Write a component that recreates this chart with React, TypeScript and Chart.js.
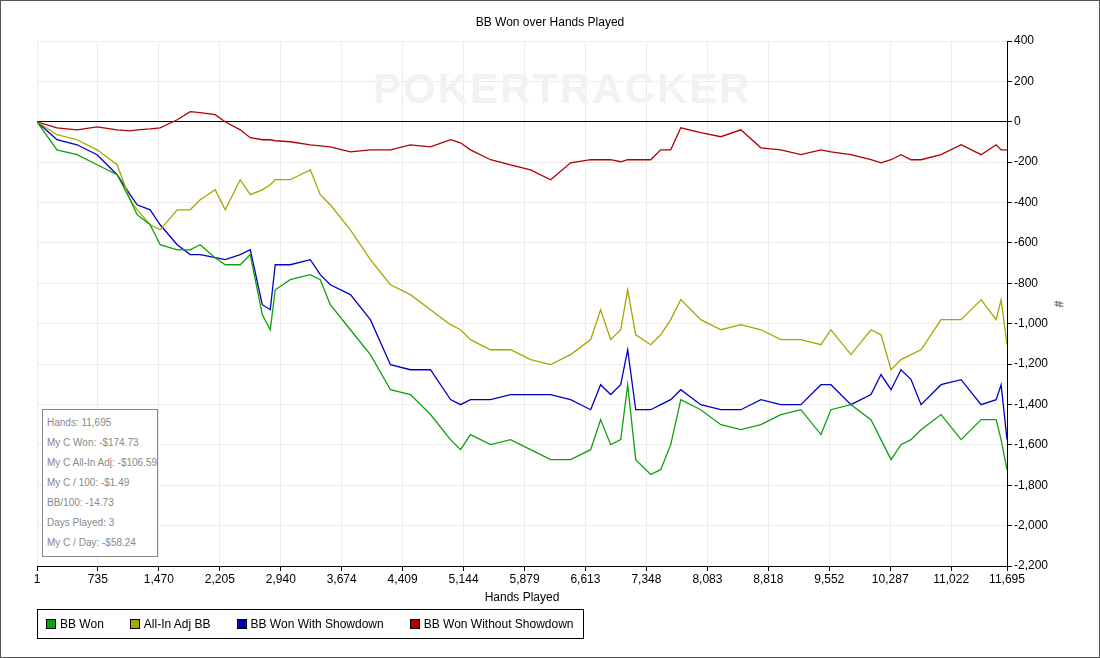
import React, { useEffect, useRef } from "react";
import { Chart, registerables } from "chart.js";
Chart.register(...registerables);

const hands = [1,242,484,725,967,1124,1208,1365,1486,1691,1848,1968,2149,2270,2451,2572,2717,2813,2873,3054,3296,3416,3537,3779,4020,4262,4503,4745,4986,5107,5227,5469,5710,5952,6193,6434,6676,6796,6917,7038,7122,7219,7400,7520,7641,7762,8003,8245,8486,8728,8969,9210,9452,9572,9814,10055,10176,10297,10417,10538,10659,10900,11142,11383,11564,11624,11695];
const bbWon = [0,-139,-163,-213,-262,-386,-460,-510,-609,-634,-634,-609,-673,-708,-708,-658,-955,-1030,-832,-782,-757,-782,-906,-1030,-1153,-1327,-1351,-1450,-1574,-1624,-1549,-1599,-1574,-1624,-1673,-1673,-1624,-1475,-1599,-1574,-1302,-1673,-1747,-1723,-1599,-1376,-1426,-1500,-1525,-1500,-1450,-1426,-1549,-1426,-1401,-1475,-1574,-1673,-1599,-1574,-1525,-1450,-1574,-1475,-1475,-1574,-1723];
const allInAdj = [0,-64,-89,-139,-213,-386,-436,-510,-535,-436,-436,-386,-337,-436,-287,-361,-337,-312,-287,-287,-238,-361,-411,-535,-683,-807,-856,-931,-1005,-1030,-1079,-1129,-1129,-1178,-1203,-1153,-1079,-931,-1079,-1030,-832,-1055,-1104,-1055,-980,-881,-980,-1030,-1005,-1030,-1079,-1079,-1104,-1030,-1153,-1030,-1055,-1228,-1178,-1153,-1129,-980,-980,-881,-980,-881,-1104];
const withSD = [0,-89,-114,-163,-262,-361,-411,-436,-510,-609,-658,-658,-673,-683,-658,-634,-906,-931,-708,-708,-683,-757,-807,-856,-980,-1203,-1228,-1228,-1376,-1401,-1376,-1376,-1351,-1351,-1351,-1376,-1426,-1302,-1351,-1302,-1129,-1426,-1426,-1401,-1376,-1327,-1401,-1426,-1426,-1376,-1401,-1401,-1302,-1302,-1401,-1351,-1252,-1327,-1228,-1277,-1401,-1302,-1277,-1401,-1376,-1302,-1574];
const withoutSD = [0,-30,-40,-25,-40,-45,-40,-35,-30,10,50,45,35,0,-40,-79,-89,-89,-94,-99,-114,-119,-124,-149,-139,-139,-114,-124,-89,-104,-139,-188,-213,-238,-287,-203,-188,-188,-188,-198,-188,-188,-188,-139,-139,-30,-54,-74,-40,-129,-139,-163,-139,-149,-163,-188,-203,-188,-163,-188,-188,-163,-114,-163,-114,-139,-139];
const xTicks = [1,735,1470,2205,2940,3674,4409,5144,5879,6613,7348,8083,8818,9552,10287,11022,11695];
const seriesNames = ["BB Won","All-In Adj BB","BB Won With Showdown","BB Won Without Showdown"];
const seriesColors = ["#0f9f0f","#a6a600","#0000c0","#b00000"];
const infoLines = ["Hands: 11,695","My C Won: -$174.73","My C All-In Adj: -$106.59","My C / 100: -$1.49","BB/100: -14.73","Days Played: 3","My C / Day: -$58.24"];

const FONT = "'Liberation Sans', Arial, sans-serif";

export default function App() {
  const ref = useRef<HTMLCanvasElement>(null);
  useEffect(() => {
    const all = [bbWon, allInAdj, withSD, withoutSD];
    const chart = new Chart(ref.current!, {
      type: "line",
      data: {
        datasets: all.map((s, i) => ({
          label: seriesNames[i],
          data: s.map((v, j) => ({ x: hands[j], y: v })),
          borderColor: seriesColors[i],
          borderWidth: 1.3,
          pointRadius: 0,
          tension: 0,
          fill: false,
        })),
      },
      options: {
        animation: false,
        responsive: false,
        devicePixelRatio: 1,
        layout: { padding: { left: 36, top: 40, right: 0, bottom: 0 } },
        plugins: { legend: { display: false }, tooltip: { enabled: false }, title: { display: false } },
        scales: {
          x: {
            type: "linear",
            min: 1,
            max: 11695,
            afterBuildTicks: (ax: any) => { ax.ticks = xTicks.map((v) => ({ value: v })); },
            afterFit: (ax: any) => { ax.height = 91; },
            ticks: { color: "#000", font: { family: FONT, size: 12 }, maxRotation: 0, autoSkip: false, padding: 1, callback: (v: any) => Number(v).toLocaleString("en-US") },
            grid: { color: "#ececec", tickColor: "#000", tickLength: 5 },
            border: { color: "#000" },
          },
          y: {
            position: "right",
            min: -2200,
            max: 400,
            ticks: { stepSize: 200, color: "#000", font: { family: FONT, size: 12 }, padding: 2, callback: (v: any) => Number(v).toLocaleString("en-US") },
            afterFit: (ax: any) => { ax.width = 92; },
            grid: { color: (c: any) => (c.tick && c.tick.value === 0 ? "#000" : "#ececec"), tickColor: "#000", tickLength: 5 },
            border: { color: "#000" },
          },
        },
      },
    });
    return () => chart.destroy();
  }, []);
  return (
    <div style={{ position: "absolute", left: 0, top: 0, width: 1100, height: 658, background: "#fff", fontFamily: FONT, boxSizing: "border-box", border: "1px solid #555" }}>
      <div style={{ position: "absolute", left: 0, top: 0 }}>
        <canvas ref={ref} width={1098} height={656} style={{ width: 1098, height: 656, display: "block" }} />
      </div>
      <div style={{ position: "absolute", left: 0, width: 1098, top: 14, textAlign: "center", fontSize: 12 }}>BB Won over Hands Played</div>
      <div style={{ position: "absolute", left: 372, top: 64, fontSize: 42, fontWeight: "bold", color: "#f2f2f2", letterSpacing: 2, whiteSpace: "nowrap" }}>POKERTRACKER</div>
      <div style={{ position: "absolute", left: 1054, top: 296, fontSize: 12, transform: "rotate(90deg)" }}>#</div>
      <div style={{ position: "absolute", left: 0, width: 1042, top: 589, textAlign: "center", fontSize: 12 }}>Hands Played</div>
      <div style={{ position: "absolute", left: 41, top: 408, width: 116, height: 148, border: "1px solid #888", background: "#fff", color: "#888", fontSize: 10, padding: "6px 0 0 4px", boxSizing: "border-box", whiteSpace: "nowrap", overflow: "hidden" }}>
        {infoLines.map((t) => <div key={t} style={{ height: 20, lineHeight: "13px" }}>{t}</div>)}
      </div>
      <div style={{ position: "absolute", left: 36, top: 608, width: 547, height: 30, border: "1px solid #000", boxSizing: "border-box", display: "flex", alignItems: "center", fontSize: 12, whiteSpace: "nowrap" }}>
        {seriesNames.map((n, i) => (
          <div key={n} style={{ display: "flex", alignItems: "center", marginLeft: i === 0 ? 8 : 26 }}>
            <span style={{ width: 10, height: 10, background: seriesColors[i], border: "1px solid #000", marginRight: 4, boxSizing: "border-box" }} />
            {n}
          </div>
        ))}
      </div>
    </div>
  );
}
